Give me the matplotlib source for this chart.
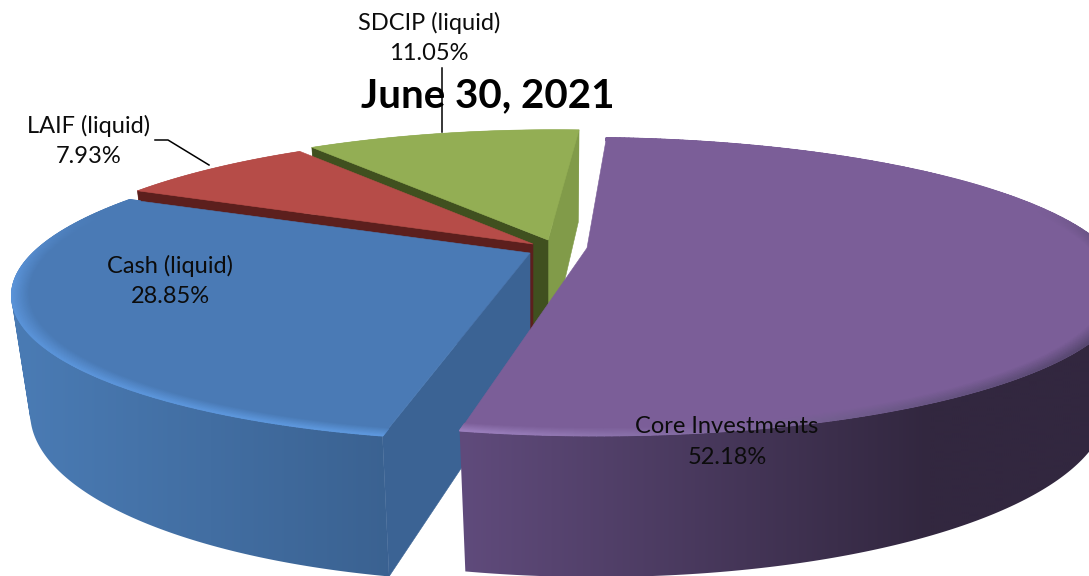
import matplotlib
matplotlib.use("Agg")
import matplotlib.pyplot as plt
import numpy as np
from matplotlib.collections import LineCollection
from matplotlib.colors import to_rgb
from matplotlib.patches import Polygon
from matplotlib.path import Path

# portfolio shares, in draw order (back of the pie to the front)
names = ["SDCIP (liquid)", "LAIF (liquid)", "Cash (liquid)", "Core Investments"]
shares = [11.05, 7.93, 28.85, 52.18]

top_colors = ["#93ae54", "#b64c48", "#4a7ab5", "#7b5e98"]
cut_start = ["#819b49", None, None, None]
cut_end = ["#40501f", "#5c1f1d", "#3b6394", None]
side_from = ["#819b49", "#94403c", "#4a7bb4", "#604b7c"]
side_to = ["#819b49", "#94403c", "#3a6190", "#32273f"]
rim_from = [None, None, "#5a93d8", "#9a7ebc"]
rim_to = [None, None, "#64a0e6", "#574770"]

# apex of each wedge on the canvas, exploded a little from one another
apex_x = [548, 533, 530, 587]
apex_y = [240, 244, 253, 248]
# small per-wedge corrections to the projected outline
scale_x = [1.01, 1.0, 1.015, 1.06]
skew = [0.018, 0.02, 0.025, -0.014]

START = 86.5
RADIUS = 490
DEPTH_A = 139
PERSP = 0.26
PERSP_Z = 0.035
HEIGHT = 116


def project(u, v, z, i):
    s = 1 / (1 + PERSP * v + PERSP_Z * z)
    x = apex_x[i] + RADIUS * scale_x[i] * (u + skew[i] * v) * s
    return x, apex_y[i] - DEPTH_A * v * s + HEIGHT * z * s


def lerp(c1, c2, t):
    c1, c2 = np.array(to_rgb(c1)), np.array(to_rgb(c2))
    return c1 + (c2 - c1) * t


def face(ax, pts, color, z):
    ax.add_patch(Polygon(pts, fc=color, ec=color, lw=0.4, zorder=z))


def wall_path(xt, yt, xb, yb):
    # union of the wall quads, all wound the same way so nonzero fill keeps them
    verts, codes = [], []
    for k in range(len(xt) - 1):
        q = np.array([(xt[k], yt[k]), (xt[k + 1], yt[k + 1]), (xb[k + 1], yb[k + 1]), (xb[k], yb[k])])
        area = np.sum(q[:, 0] * np.roll(q[:, 1], -1) - np.roll(q[:, 0], -1) * q[:, 1])
        if area < 0:
            q = q[::-1]
        verts.extend(list(q) + [q[0]])
        codes.extend([Path.MOVETO, Path.LINETO, Path.LINETO, Path.LINETO, Path.CLOSEPOLY])
    return Path(np.array(verts), codes)


def draw_wedge(ax, t1, t2, i):
    z = 1 + i * 10
    th = np.radians(np.linspace(t1, t2, 300))
    u, v = np.cos(th), np.sin(th)
    xt, yt = project(u, v, 0, i)
    xb, yb = project(u, v, 1, i)
    ax0, ay0 = project(0, 0, 0, i)
    bx, by = project(0, 0, 1, i)

    # outer wall, a left-to-right gradient clipped to the wall outline
    lo, hi = (20, 400) if i == 2 else (460, 930)
    xs = np.linspace(0, 1089, 545)
    grad = np.array([lerp(side_from[i], side_to[i], np.clip((x - lo) / (hi - lo), 0, 1)) for x in xs])
    im = ax.imshow(grad[None, :, :], extent=(0, 1089, 576, 0), aspect="auto", zorder=z,
                   interpolation="bilinear")
    im.set_clip_path(wall_path(xt, yt, xb, yb), transform=ax.transData)

    if cut_start[i]:
        face(ax, [(ax0, ay0), (xt[0], yt[0]), (xb[0], yb[0]), (bx, by)], cut_start[i], z + 1)
    if cut_end[i]:
        face(ax, [(ax0, ay0), (xt[-1], yt[-1]), (xb[-1], yb[-1]), (bx, by)], cut_end[i], z + 1)

    face(ax, np.vstack([[ax0, ay0], np.column_stack([xt, yt])]), top_colors[i], z + 2)

    # bevel along the front of the rim
    if rim_from[i] is None:
        return
    rings = np.linspace(0.97, 0.999, 15)
    for j, r in enumerate(rings):
        xr, yr = project(r * u, r * v, 0, i)
        segs = np.stack([np.column_stack([xr[:-1], yr[:-1]]), np.column_stack([xr[1:], yr[1:]])], axis=1)
        strength = (j + 1) / len(rings) * np.clip((0.3 - v[:-1]) / 0.5, 0, 1)
        cols = []
        for k in range(len(segs)):
            rim = lerp(rim_from[i], rim_to[i], np.clip((xr[k] - lo) / (1089 - lo), 0, 1))
            cols.append(lerp(top_colors[i], rim, strength[k]))
        ax.add_collection(LineCollection(segs, colors=cols, linewidths=1.2, capstyle="round", zorder=z + 3))


fig = plt.figure(figsize=(10.89, 5.76), dpi=100)
ax = fig.add_axes([0, 0, 1, 1])
ax.axis("off")

plt.rcParams["font.family"] = ["Lato", "DejaVu Sans"]

# wedges run counter-clockwise from just right of the back
total = sum(shares)
edges = START + np.concatenate([[0], np.cumsum(shares)]) / total * 360
for i in range(len(shares)):
    draw_wedge(ax, edges[i], edges[i + 1], i)

ax.set_xlim(0, 1089)
ax.set_ylim(576, 0)

# leader lines
ax.plot([442, 442], [68, 132], color="black", lw=1.1, zorder=50)
ax.plot([155, 168, 209], [140, 140, 165], color="black", lw=1.1, zorder=50)

label_x = [429, 89, 170, 727]
label_y = [38, 141, 281, 442]
for name, val, lx, ly in zip(names, shares, label_x, label_y):
    ax.text(lx, ly, f"{name}\n{val:.2f}%", ha="center", va="center", fontsize=17,
            linespacing=1.55, color="#0c0c0c", zorder=60)

ax.text(488, 96, "June 30, 2021", ha="center", va="center", fontsize=29,
        fontweight="bold", color="black", zorder=60)

fig.savefig("out.png", dpi=100)
